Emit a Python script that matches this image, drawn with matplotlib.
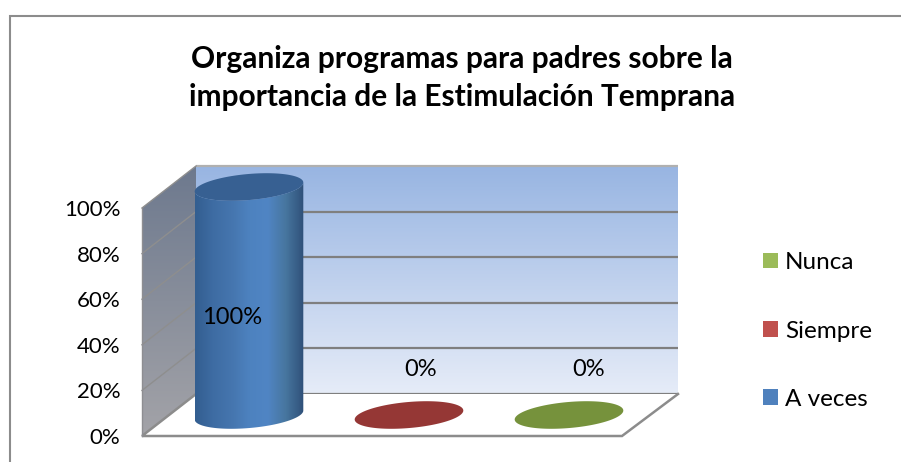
import numpy as np
import matplotlib
matplotlib.use("Agg")
import matplotlib.pyplot as plt
from matplotlib.colors import LinearSegmentedColormap
from matplotlib.lines import Line2D
from matplotlib.patches import Patch, Polygon

categories = ["A veces", "Siempre", "Nunca"]
values = [100, 0, 0]
tick_values = [0, 20, 40, 60, 80, 100]
tick_labels = ["0%", "20%", "40%", "60%", "80%", "100%"]
title = "Organiza programas para padres sobre la\nimportancia de la Estimulación Temprana"

legend_colors = ["#4f81bd", "#c0504d", "#9bbb59"]
cap_colors = ["#376092", "#953735", "#76923c"]
label_offsets = [(10, 5), (39, 66), (47, 66)]

plt.rcParams["font.family"] = ["Lato", "DejaVu Sans"]
W, H = 901, 462
fig = plt.figure(figsize=(W / 100, H / 100), dpi=100, facecolor="white")

# Frame: only the top and left edges fall inside the picture
fig.add_artist(Line2D([9.5 / W, 9.5 / W, 1], [0, 1 - 16 / H, 1 - 16 / H],
                      transform=fig.transFigure, color="#8c8c8c", lw=1.5,
                      solid_joinstyle="miter"))

ax = fig.add_axes([142 / W, (H - 436) / H, 480 / W, 228 / H])
ax.set_xlim(0, 3)
ax.set_ylim(0, 100)
ax.patch.set_visible(False)
for s in ax.spines.values():
    s.set_visible(False)

PX = 160.0          # pixels per category
PY = 2.28           # pixels per percentage unit
DX, DY = 54 / PX, 42 / PY   # depth of the 3-D box in data units
XR = 3 + DX + 2 / PX        # right end of the back wall


def gradient(xy, colors, horizontal=False, z=1):
    poly = Polygon(xy, closed=True, transform=ax.transData, fc="none", ec="none")
    ax.add_patch(poly)
    poly.set_zorder(0)
    grad = np.linspace(0, 1, 256)
    grad = grad[None, :] if horizontal else grad[:, None]
    cmap = LinearSegmentedColormap.from_list("g", colors)
    xs, ys = zip(*xy)
    im = ax.imshow(grad, extent=(min(xs), max(xs), min(ys), max(ys)), origin="upper",
                   cmap=cmap, aspect="auto", zorder=z, interpolation="bilinear")
    im.set_clip_box(fig.bbox)
    im.set_clip_path(poly)
    return im


# Walls
gradient([(0, 0), (DX, DY), (DX, 100 + DY), (0, 100)], ["#6d798e", "#a3a3a8"], z=1)
gradient([(DX, DY), (XR, DY), (XR, 100 + DY), (DX, 100 + DY)], ["#98b5e2", "#e6ecf8"], z=1)

# Gridlines
for t in tick_values:
    c = "#b0b0b0" if t == 100 else "#7f7f7f"
    ax.plot([DX, XR], [t + DY, t + DY], color=c, lw=1.6, zorder=2, clip_on=False,
            solid_capstyle="butt")
    if 0 < t:
        ax.plot([0, DX], [t, t + DY], color="#8e8e8e", lw=1.0, zorder=2, clip_on=False)

# Floor
ax.add_patch(Polygon([(0, 0), (3, 0), (XR, DY), (DX, DY)], closed=True, fc="white",
                     ec="none", zorder=2, clip_on=False))
ax.plot([DX, 0, 3, XR], [DY, 0, 0, DY], color="#8c8c8c", lw=1.8, zorder=3, clip_on=False,
        solid_joinstyle="miter")
ax.plot([0, 0], [0, 100], color="#8e8e92", lw=1.0, zorder=3, clip_on=False)


def ellipse(cx, v, t):
    a, b, th = 54.5, 13, np.radians(5)
    px = a * np.cos(t) * np.cos(th) - b * np.sin(t) * np.sin(th)
    py = a * np.cos(t) * np.sin(th) + b * np.sin(t) * np.cos(th)
    return cx + px / PX, v + py / PY


full = np.linspace(0, 2 * np.pi, 200)
lower = np.linspace(np.pi, 2 * np.pi, 100)
body_cols = ["#335e90", "#3e6ca3", "#4575ae", "#4d82bf", "#5085c4", "#47769f", "#2f5079"]
for i, v in enumerate(values):
    cx = i + 0.5 + DX / 2
    cy = DY / 2
    if v > 0:
        bx, by = ellipse(cx, cy, lower)
        tx, ty = ellipse(cx, cy + v, lower[::-1])
        gradient(list(zip(bx, by)) + list(zip(tx, ty)), body_cols, horizontal=True, z=4)
    ex, ey = ellipse(cx, cy + v, full)
    ax.fill(ex, ey, color=cap_colors[i], lw=0, zorder=5, clip_on=False)
    ax.annotate(f"{v}%", (i + 0.5, v / 2), xytext=label_offsets[i], textcoords="offset pixels",
                ha="center", va="center", fontsize=17, color="#000000", zorder=6)

ax.set_xlim(0, 3)
ax.set_ylim(0, 100)
ax.set_xticks([])
ax.set_yticks(tick_values, tick_labels, fontsize=16)
ax.tick_params(axis="y", length=0, pad=15.5)

fig.text(462 / W, 1 - 78 / H, title, ha="center", va="center", fontsize=21.5,
         fontweight="bold", linespacing=1.4, color="#000000")

handles = [Patch(fc=c, ec="none") for c in legend_colors[::-1]]
fig.legend(handles, categories[::-1], loc="center left", bbox_to_anchor=(763 / W, 1 - 331 / H),
           frameon=False, fontsize=17.5, labelspacing=1.95, handlelength=0.62, handleheight=0.62,
           handletextpad=0.29, borderpad=0, borderaxespad=0)

fig.savefig("out.png", dpi=100)
